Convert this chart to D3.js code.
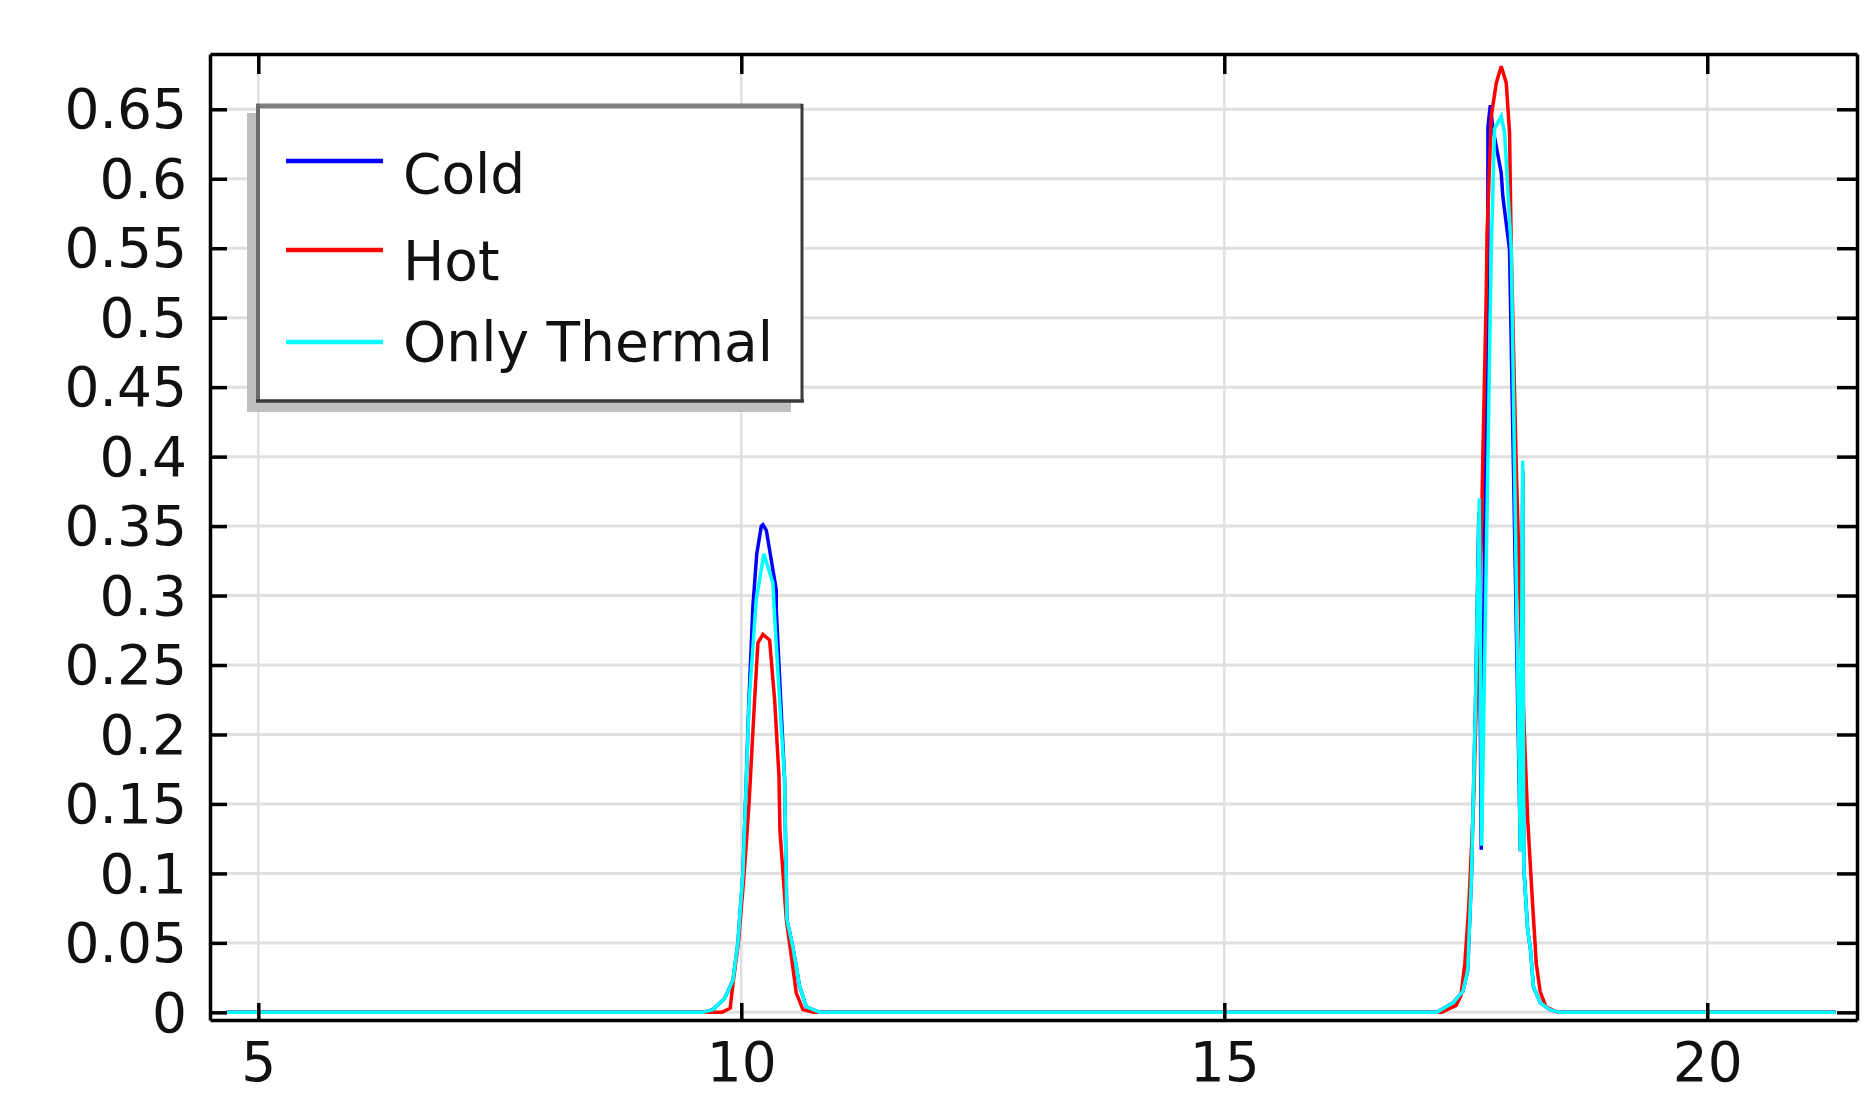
<!DOCTYPE html>
<html><head><meta charset="utf-8">
<script src="https://cdn.jsdelivr.net/npm/d3@7"></script>
<style>html,body{margin:0;padding:0;background:#fff;} svg{display:block;}</style>
</head><body><svg id="chart" width="1870" height="1094"></svg>
<script>
const seriesNames = ["Cold", "Hot", "Only Thermal"];
const seriesColors = ["#0000ff", "#ff0000", "#00ffff"];

const coldPoints = [
  [4.67,0],[9.60,0],[9.706,0.002],[9.827,0.010],[9.913,0.023],[9.965,0.05],[10.017,0.10],
  [10.052,0.168],[10.079,0.225],[10.12,0.292],[10.16,0.33],[10.207,0.35],[10.224,0.351],
  [10.259,0.347],[10.362,0.304],[10.362,0.29],[10.448,0.168],[10.472,0.067],[10.534,0.047],
  [10.603,0.019],[10.673,0.004],[10.81,0],
  [17.20,0],[17.37,0.007],[17.47,0.015],[17.52,0.03],[17.56,0.10],[17.60,0.22],[17.635,0.36],
  [17.66,0.117],[17.729,0.549],[17.729,0.637],[17.754,0.653],[17.781,0.636],[17.825,0.62],
  [17.867,0.604],[17.884,0.587],[17.953,0.549],[18.065,0.116],[18.09,0.39],[18.10,0.105],
  [18.14,0.06],[18.17,0.045],[18.20,0.0185],[18.27,0.007],[18.37,0.002],[18.47,0],[21.33,0]
];
const hotPoints = [
  [4.67,0],[9.80,0],[9.885,0.003],[9.92,0.024],[9.97,0.05],[10.03,0.10],[10.08,0.15],
  [10.138,0.225],[10.172,0.266],[10.224,0.272],[10.293,0.268],[10.345,0.225],[10.39,0.17],
  [10.40,0.131],[10.466,0.067],[10.569,0.014],[10.638,0.002],[10.75,0],
  [17.25,0],[17.40,0.005],[17.45,0.012],[17.49,0.035],[17.53,0.075],[17.58,0.15],[17.62,0.25],
  [17.66,0.339],[17.677,0.401],[17.712,0.517],[17.72,0.56],[17.764,0.645],[17.816,0.669],
  [17.867,0.681],[17.919,0.669],[17.953,0.633],[17.971,0.549],[18.02,0.40],[18.08,0.25],
  [18.14,0.14],[18.19,0.08],[18.23,0.035],[18.27,0.015],[18.33,0.004],[18.45,0],[21.33,0]
];
const thermalPoints = [
  [4.67,0],[9.60,0],[9.706,0.002],[9.827,0.010],[9.913,0.023],[9.965,0.05],[10.017,0.10],
  [10.052,0.168],[10.082,0.225],[10.155,0.297],[10.234,0.33],[10.327,0.309],[10.345,0.285],
  [10.396,0.225],[10.448,0.168],[10.472,0.067],[10.534,0.047],[10.603,0.019],[10.673,0.004],[10.81,0],
  [17.20,0],[17.37,0.007],[17.47,0.015],[17.52,0.03],[17.56,0.10],[17.60,0.22],[17.64,0.37],
  [17.665,0.12],[17.764,0.549],[17.798,0.636],[17.867,0.645],[17.902,0.633],[17.971,0.549],
  [18.065,0.116],[18.09,0.397],[18.10,0.105],[18.14,0.06],[18.17,0.045],[18.20,0.0185],
  [18.27,0.007],[18.37,0.002],[18.47,0],[21.33,0]
];

const xTickValues = [5, 10, 15, 20];
const xTickLabels = ["5", "10", "15", "20"];
const yTickValues = [0,0.05,0.1,0.15,0.2,0.25,0.3,0.35,0.4,0.45,0.5,0.55,0.6,0.65];
const yTickLabels = ["0","0.05","0.1","0.15","0.2","0.25","0.3","0.35","0.4","0.45","0.5","0.55","0.6","0.65"];

const allSeries = [coldPoints, hotPoints, thermalPoints];

const L = 210, R = 1857, T = 54, B = 1020;
const FONT = "'DejaVu Sans', Verdana, sans-serif";
const svg = d3.select("#chart");

const x = d3.scaleLinear().domain([4.5, 21.55]).range([L, R]);
const y = d3.scaleLinear().domain([-0.0055, 0.6898]).range([B, T]);

svg.append("rect").attr("width", 1870).attr("height", 1094).attr("fill", "#fff");

// grid
const grid = svg.append("g");
grid.selectAll("line.h").data(yTickValues).join("line")
  .attr("x1", L).attr("x2", R).attr("y1", d => y(d)).attr("y2", d => y(d))
  .attr("stroke", "#e0e0e0").attr("stroke-width", 3);
grid.selectAll("line.v").data(xTickValues).join("line")
  .attr("y1", T).attr("y2", B).attr("x1", d => x(d)).attr("x2", d => x(d))
  .attr("stroke", "#e0e0e0").attr("stroke-width", 2.5);

// clip
svg.append("clipPath").attr("id", "plotclip").append("rect")
  .attr("x", L).attr("y", T).attr("width", R - L).attr("height", B - T);

const line = d3.line().x(d => x(d[0])).y(d => y(d[1]));
const lines = svg.append("g").attr("clip-path", "url(#plotclip)");
allSeries.forEach((pts, i) => {
  lines.append("path").datum(pts)
    .attr("d", line).attr("fill", "none")
    .attr("stroke", seriesColors[i]).attr("stroke-width", 3.5)
    .attr("stroke-linejoin", "miter").attr("stroke-miterlimit", 3);
});

// axes
function styleAxis(g) {
  g.select(".domain").attr("stroke", "#000").attr("stroke-width", 3.5);
  g.selectAll(".tick line").attr("stroke", "#000").attr("stroke-width", 3.5);
  g.selectAll("text").attr("font-family", FONT).attr("font-size", 55).attr("fill", "#111");
}
const axL = svg.append("g").attr("transform", `translate(${L},0)`)
  .call(d3.axisLeft(y).tickValues(yTickValues).tickFormat((d, i) => yTickLabels[i])
    .tickSize(-17).tickSizeOuter(0).tickPadding(23));
styleAxis(axL);
axL.selectAll("text").attr("dy", "0.34em");

const axB = svg.append("g").attr("transform", `translate(0,${B})`)
  .call(d3.axisBottom(x).tickValues(xTickValues).tickFormat((d, i) => xTickLabels[i])
    .tickSize(-17).tickSizeOuter(0));
styleAxis(axB);
axB.selectAll("text").attr("y", 61).attr("dy", 0);

const axT = svg.append("g").attr("transform", `translate(0,${T})`)
  .call(d3.axisTop(x).tickValues(xTickValues).tickFormat("").tickSize(-20).tickSizeOuter(0));
styleAxis(axT);
const axR = svg.append("g").attr("transform", `translate(${R},0)`)
  .call(d3.axisRight(y).tickValues(yTickValues).tickFormat("").tickSize(-20).tickSizeOuter(0));
styleAxis(axR);

// legend
const lg = svg.append("g");
lg.append("rect").attr("x", 247).attr("y", 113).attr("width", 544).attr("height", 299).attr("fill", "#bfbfbf");
lg.append("rect").attr("x", 256).attr("y", 104).attr("width", 547).attr("height", 298).attr("fill", "#fff");
lg.append("line").attr("x1", 256).attr("x2", 803).attr("y1", 106).attr("y2", 106).attr("stroke", "#7f7f7f").attr("stroke-width", 5);
lg.append("line").attr("x1", 258).attr("x2", 258).attr("y1", 104).attr("y2", 402).attr("stroke", "#6a6a6a").attr("stroke-width", 4);
lg.append("line").attr("x1", 256).attr("x2", 804).attr("y1", 401).attr("y2", 401).attr("stroke", "#3a3a3a").attr("stroke-width", 3.5);
lg.append("line").attr("x1", 802).attr("x2", 802).attr("y1", 104).attr("y2", 402).attr("stroke", "#3a3a3a").attr("stroke-width", 3);

const legendLineY = [161, 250, 342];
const legendTextY = [193, 280, 361];
seriesNames.forEach((name, i) => {
  lg.append("line").attr("x1", 286).attr("x2", 383)
    .attr("y1", legendLineY[i]).attr("y2", legendLineY[i])
    .attr("stroke", seriesColors[i]).attr("stroke-width", 4.5);
  lg.append("text").attr("x", 403).attr("y", legendTextY[i])
    .attr("font-family", FONT).attr("font-size", 55).attr("fill", "#111")
    .text(name);
});
</script>
</body></html>
